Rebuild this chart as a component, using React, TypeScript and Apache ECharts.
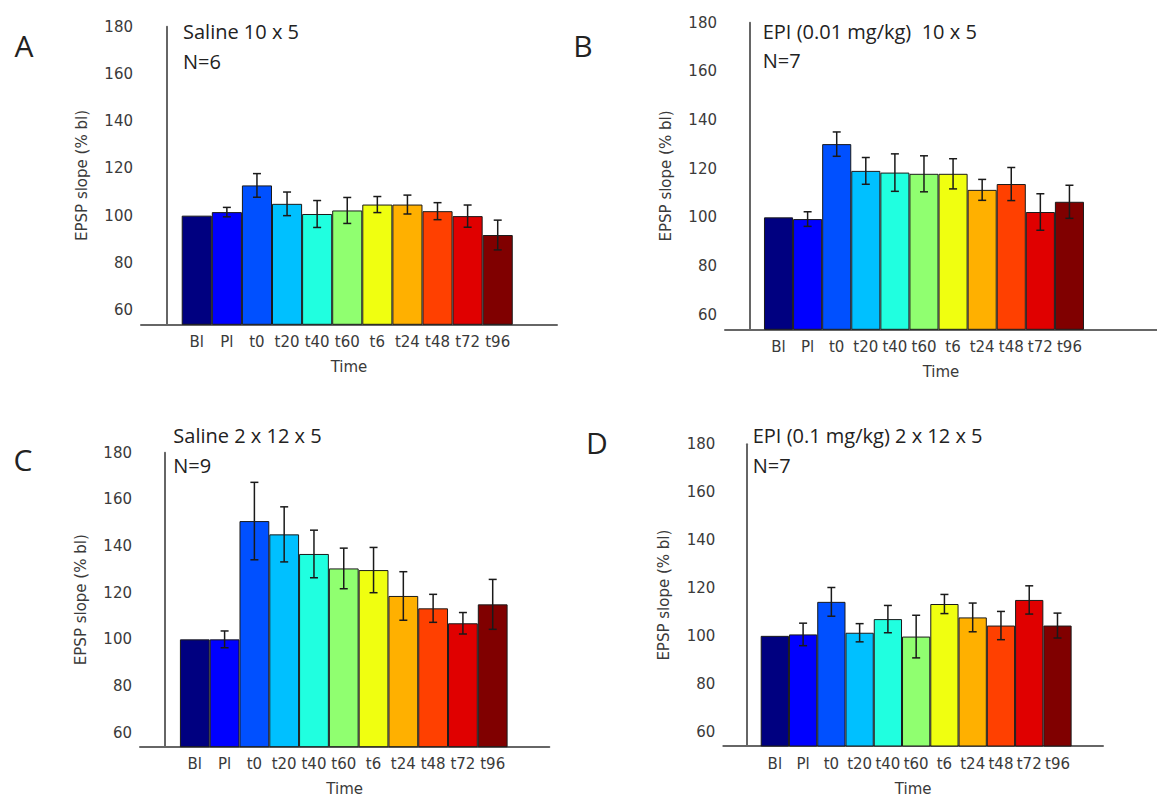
import React, { useEffect, useRef } from "react";
import * as echarts from "echarts";

const categories = ["Bl", "Pl", "t0", "t20", "t40", "t60", "t6", "t24", "t48", "t72", "t96"];
const yTicks = [60, 80, 100, 120, 140, 160, 180];

const salineA = [100, 101.5, 112.8, 105, 100.7, 102.2, 104.7, 104.7, 101.9, 99.8, 91.8];
const salineAErr = [0, 2, 5, 5, 5.7, 5.5, 3.4, 4, 3.6, 4.7, 6.3];
const epiB = [100, 99.3, 130.1, 119.1, 118.4, 117.9, 117.9, 111.3, 113.7, 102.2, 106.4];
const epiBErr = [0, 3, 5, 5.5, 7.7, 7.4, 6.2, 4.3, 6.8, 7.5, 6.8];
const salineC = [100, 100, 150.7, 145, 136.6, 130.4, 129.7, 118.6, 113.3, 106.9, 115];
const salineCErr = [0, 3.6, 16.6, 11.8, 10.2, 8.7, 9.7, 10.4, 6, 4.6, 10.7];
const epiD = [100, 100.6, 114.2, 101.3, 107, 99.7, 113.3, 107.7, 104.3, 115, 104.3];
const epiDErr = [0, 4.7, 6, 3.8, 5.7, 8.9, 4, 6, 5.9, 5.9, 5.2];

const titles = ["Saline 10 x 5", "EPI (0.01 mg/kg)  10 x 5", "Saline 2 x 12 x 5", "EPI (0.1 mg/kg) 2 x 12 x 5"];
const nLabels = ["N=6", "N=7", "N=9", "N=7"];
const panelLetters = ["A", "B", "C", "D"];

const jetColors = ["#000080", "#0000ff", "#0050ff", "#00c0ff", "#20ffe0", "#90ff70", "#f0ff10", "#ffb000", "#ff4000", "#e00000", "#800000"];

const panels = [
  { values: salineA, errs: salineAErr, grid: { left: 141, top: 26.7, width: 416, height: 297.6 }, xMin: -0.853, xMax: 12.97, letter: [24, 45], title: [183, 31.7], n: [183, 61.7] },
  { values: epiB, errs: epiBErr, grid: { left: 725, top: 22.7, width: 432, height: 306.6 }, xMin: -0.84, xMax: 14.01, letter: [583, 45], title: [762.7, 31.7], n: [762.7, 60] },
  { values: salineC, errs: salineCErr, grid: { left: 140, top: 452.7, width: 409.3, height: 294 }, xMin: -0.84, xMax: 12.9, letter: [23, 459], title: [173.3, 435], n: [173.3, 465] },
  { values: epiD, errs: epiDErr, grid: { left: 723.3, top: 444.3, width: 379.7, height: 301.7 }, xMin: -0.823, xMax: 12.61, letter: [597, 442], title: [752.7, 435], n: [752.7, 465] },
];

const axisFont = "DejaVu Sans";
const titleFont = "Open Sans";
const axisColor = "#666";
const labelColor = "#3a3a3a";

export default function App() {
  const ref = useRef<HTMLDivElement>(null);
  useEffect(() => {
    if (!ref.current) return;
    const chart = echarts.init(ref.current, undefined, { renderer: "svg" });
    const grids: any[] = [];
    const xAxes: any[] = [];
    const yAxes: any[] = [];
    const series: any[] = [];
    const graphics: any[] = [];
    panels.forEach((p, k) => {
      grids.push({ ...p.grid, containLabel: false });
      xAxes.push({
        type: "value",
        gridIndex: k,
        min: p.xMin,
        max: p.xMax,
        name: "Time",
        nameLocation: "middle",
        nameGap: 35,
        nameTextStyle: { fontFamily: axisFont, fontSize: 15, color: labelColor },
        axisLine: { show: true, lineStyle: { color: axisColor, width: 2 } },
        axisTick: { show: false },
        splitLine: { show: false },
        axisLabel: {
          customValues: categories.map((_, i) => i + 1),
          formatter: (v: number) => categories[Math.round(v) - 1] ?? "",
          fontFamily: axisFont,
          fontSize: 15,
          color: labelColor,
          margin: 10,
        },
      });
      yAxes.push({
        type: "value",
        gridIndex: k,
        min: 54,
        max: 180,
        name: "EPSP slope (% bl)",
        nameLocation: "middle",
        nameGap: 52,
        nameTextStyle: { fontFamily: axisFont, fontSize: 15, color: labelColor },
        axisLine: { show: true, lineStyle: { color: axisColor, width: 2 } },
        axisTick: { show: false },
        splitLine: { show: false },
        axisLabel: {
          customValues: yTicks,
          fontFamily: axisFont,
          fontSize: 15,
          color: labelColor,
          margin: 8,
        },
      });
      series.push({
        type: "bar",
        xAxisIndex: k,
        yAxisIndex: k,
        barWidth: "100%",
        data: p.values.map((v, i) => ({ value: [i + 1, v], itemStyle: { color: jetColors[i] } })),
        itemStyle: { borderColor: "#1a1a1a", borderWidth: 1 },
        z: 2,
      });
      series.push({
        type: "custom",
        xAxisIndex: k,
        yAxisIndex: k,
        z: 5,
        data: p.values.map((v, i) => [i + 1, v, p.errs[i]]).filter((d) => d[2] > 0),
        renderItem: (params: any, api: any) => {
          const x = api.value(0);
          const y = api.value(1);
          const e = api.value(2);
          const top = api.coord([x, y + e]);
          const bot = api.coord([x, y - e]);
          const hw = 4;
          const style = { stroke: "#1a1a1a", lineWidth: 1.5 };
          return {
            type: "group",
            children: [
              { type: "line", shape: { x1: top[0], y1: top[1], x2: bot[0], y2: bot[1] }, style },
              { type: "line", shape: { x1: top[0] - hw, y1: top[1], x2: top[0] + hw, y2: top[1] }, style },
              { type: "line", shape: { x1: bot[0] - hw, y1: bot[1], x2: bot[0] + hw, y2: bot[1] }, style },
            ],
          };
        },
      });
      graphics.push({
        type: "text",
        x: p.letter[0],
        y: p.letter[1],
        style: { text: panelLetters[k], fontFamily: titleFont, fontSize: 30, fill: "#222", align: "center", verticalAlign: "middle" },
      });
      graphics.push({
        type: "text",
        x: p.title[0],
        y: p.title[1],
        style: { text: titles[k], fontFamily: titleFont, fontSize: 20, fill: "#222", align: "left", verticalAlign: "middle" },
      });
      graphics.push({
        type: "text",
        x: p.n[0],
        y: p.n[1],
        style: { text: nLabels[k], fontFamily: titleFont, fontSize: 20, fill: "#222", align: "left", verticalAlign: "middle" },
      });
    });
    chart.setOption({
      animation: false,
      backgroundColor: "#ffffff",
      grid: grids,
      xAxis: xAxes,
      yAxis: yAxes,
      series,
      graphic: graphics,
    });
    return () => chart.dispose();
  }, []);
  return <div ref={ref} style={{ position: "absolute", left: 0, top: 0, width: 1157, height: 798 }} />;
}
